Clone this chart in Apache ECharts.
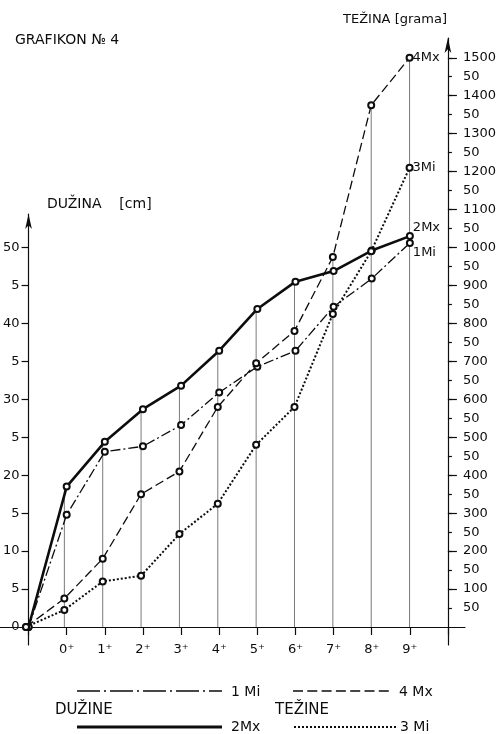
<!DOCTYPE html>
<html><head><meta charset="utf-8">
<script src="https://cdn.jsdelivr.net/npm/echarts@6/dist/echarts.min.js"></script>
<style>html,body{margin:0;padding:0;background:#fff}#c{width:499px;height:734px}</style>
</head><body><div id="c"></div>
<script>
// ---- data ----
const categories = ['', '0⁺', '1⁺', '2⁺', '3⁺', '4⁺', '5⁺', '6⁺', '7⁺', '8⁺', '9⁺', ''];
// lengths (cm)
const len1Mi = [0, 14.8, 23.1, 23.8, 26.6, 30.9, 34.3, 36.4, 42.2, 45.9, 50.6];
const len2Mx = [0, 18.5, 24.4, 28.7, 31.8, 36.4, 41.9, 45.5, 46.9, 49.6, 51.5];
// weights (g)
const w4Mx = [0, 75, 180, 350, 410, 580, 695, 780, 975, 1375, 1500];
const w3Mi = [0, 45, 120, 135, 245, 325, 480, 580, 825, 990, 1210];
// tick labels
const lenTickValues = [0, 5, 10, 15, 20, 25, 30, 35, 40, 45, 50];
const lenTickLabels = ['0', '5', '10', '5', '20', '5', '30', '5', '40', '5', '50'];
const wTickValues = [50, 100, 150, 200, 250, 300, 350, 400, 450, 500, 550, 600, 650, 700, 750, 800, 850, 900, 950, 1000, 1050, 1100, 1150, 1200, 1250, 1300, 1350, 1400, 1450, 1500];
const wTickLabels = ['50', '100', '50', '200', '50', '300', '50', '400', '50', '500', '50', '600', '50', '700', '50', '800', '50', '900', '50', '1000', '50', '1100', '50', '1200', '50', '1300', '50', '1400', '50', '1500'];
const wMajorValues = [100, 200, 300, 400, 500, 600, 700, 800, 900, 1000, 1100, 1200, 1300, 1400, 1500];

// ---- layout ----
const FONT = 'DejaVu Sans';
const INK = '#0d0d0d';
const W = 499, H = 734;
const ZERO_Y = 627, BOTTOM_Y = 645, TOP_LEN = 214, TOP_W = 38;
const AX_L = 26, AX_R = 448, X_END = 465;
const PX_PER_CM = 7.59, G_PER_CM = 20, PX_PER_G = PX_PER_CM / G_PER_CM;
const lenMin = -(BOTTOM_Y - ZERO_Y) / PX_PER_CM;
const lenMax = (ZERO_Y - TOP_LEN) / PX_PER_CM;
const wMin = -(BOTTOM_Y - ZERO_Y) / PX_PER_G;
const wMax = (ZERO_Y - TOP_W) / PX_PER_G;

const dropHeights = categories.map((c, i) =>
  (i === 0 || i >= len2Mx.length) ? null :
  Math.max(len2Mx[i] * G_PER_CM, len1Mi[i] * G_PER_CM, w4Mx[i], w3Mi[i]));

const txt = (size) => ({ fontFamily: FONT, fontSize: size, color: INK, fontWeight: 'normal' });
const axisLineStyle = { color: INK, width: 1.2 };

const chart = echarts.init(document.getElementById('c'), null, { renderer: 'canvas' });

function lineSeries(name, data, yIdx, lineStyle, endOffset) {
  return {
    name, type: 'line', xAxisIndex: yIdx, yAxisIndex: yIdx, data,
    symbol: 'emptyCircle', symbolSize: 6, z: 5,
    lineStyle: Object.assign({ color: INK }, lineStyle),
    itemStyle: { color: INK, borderColor: INK, borderWidth: 1.2 },
    endLabel: { show: true, formatter: name, distance: 3, offset: endOffset, ...txt(13) },
    animation: false
  };
}

chart.setOption({
  backgroundColor: '#fff',
  animation: false,
  title: [
    { text: 'GRAFIKON № 4', left: 15, top: 33, padding: 0, textStyle: { ...txt(14), lineHeight: 14 } },
    { text: 'TEŽINA [grama]', left: 343, top: 13, padding: 0, textStyle: { ...txt(13), lineHeight: 14 } },
    { text: 'DUŽINA    [cm]', left: 47, top: 197, padding: 0, textStyle: { ...txt(14), lineHeight: 14 } }
  ],
  grid: [
    { left: AX_L, right: W - AX_R, top: TOP_LEN, bottom: H - BOTTOM_Y },
    { left: AX_L, right: W - AX_R, top: TOP_W, bottom: H - BOTTOM_Y },
    { left: 0, right: W - X_END, top: ZERO_Y - 10, bottom: H - ZERO_Y }
  ],
  xAxis: [
    {
      gridIndex: 0, type: 'category', data: categories, boundaryGap: false,
      axisLine: { show: true, onZero: true, lineStyle: axisLineStyle },
      axisTick: { show: true, length: 8, interval: 0, lineStyle: axisLineStyle },
      axisLabel: { interval: 0, margin: -2, ...txt(13) },
      splitLine: { show: false }
    },
    { gridIndex: 1, type: 'category', data: categories, boundaryGap: false, show: false },
    {
      gridIndex: 2, type: 'value', min: 0, max: 1,
      axisLine: { show: true, lineStyle: axisLineStyle },
      axisTick: { show: false }, axisLabel: { show: false }, splitLine: { show: false }
    }
  ],
  yAxis: [
    {
      gridIndex: 0, type: 'value', position: 'left', min: lenMin, max: lenMax,
      axisLine: { show: true, symbol: ['none', 'arrow'], symbolSize: [5, 15], lineStyle: axisLineStyle },
      axisTick: { show: true, length: 7, customValues: lenTickValues, lineStyle: axisLineStyle },
      axisLabel: { customValues: lenTickValues, margin: 9, ...txt(13),
        formatter: v => { const k = lenTickValues.indexOf(v); return k >= 0 ? lenTickLabels[k] : ''; } },
      splitLine: { show: false }
    },
    {
      gridIndex: 1, type: 'value', position: 'right', min: wMin, max: wMax,
      axisLine: { show: true, symbol: ['none', 'arrow'], symbolSize: [5, 15], lineStyle: axisLineStyle },
      axisTick: { show: true, inside: false, length: 4, customValues: wTickValues, lineStyle: axisLineStyle },
      axisLabel: { customValues: wTickValues, margin: 15, ...txt(13),
        formatter: v => { const k = wTickValues.indexOf(v); return k >= 0 ? wTickLabels[k] : ''; } },
      splitLine: { show: false }
    },
    {
      gridIndex: 1, type: 'value', position: 'right', min: wMin, max: wMax,
      axisLine: { show: false },
      axisTick: { show: true, length: 9, customValues: wMajorValues, lineStyle: axisLineStyle },
      axisLabel: { show: false }, splitLine: { show: false }
    },
    { gridIndex: 2, type: 'value', show: false, min: 0, max: 1 }
  ],
  series: [
    {
      name: 'drop', type: 'bar', xAxisIndex: 1, yAxisIndex: 1, data: dropHeights,
      barWidth: 1, silent: true, z: 1, itemStyle: { color: '#7a7a7a' }
    },
    lineSeries('1Mi', len1Mi, 0, { width: 1.3, type: [10, 3, 2, 3] }, [0, 10]),
    lineSeries('2Mx', len2Mx, 0, { width: 2.6, type: 'solid' }, [0, -8]),
    lineSeries('4Mx', w4Mx, 1, { width: 1.3, type: [9, 4] }, [0, 0]),
    lineSeries('3Mi', w3Mi, 1, { width: 2, type: [2, 2] }, [0, 0])
  ],
  graphic: [
    { type: 'line', shape: { x1: 77, y1: 691, x2: 222, y2: 691 }, style: { stroke: INK, lineWidth: 1.3, lineDash: [23, 4, 2, 4] } },
    { type: 'text', x: 231, y: 692, style: { text: '1 Mi', font: '14px "DejaVu Sans"', fill: INK, verticalAlign: 'middle' } },
    { type: 'text', x: 55, y: 710, style: { text: 'DUŽINE', font: '15px "DejaVu Sans"', fill: INK, verticalAlign: 'middle' } },
    { type: 'line', shape: { x1: 77, y1: 727, x2: 222, y2: 727 }, style: { stroke: INK, lineWidth: 2.8 } },
    { type: 'text', x: 231, y: 727, style: { text: '2Mx', font: '14px "DejaVu Sans"', fill: INK, verticalAlign: 'middle' } },
    { type: 'line', shape: { x1: 293, y1: 691, x2: 391, y2: 691 }, style: { stroke: INK, lineWidth: 1.3, lineDash: [10, 4.3] } },
    { type: 'text', x: 399, y: 692, style: { text: '4 Mx', font: '14px "DejaVu Sans"', fill: INK, verticalAlign: 'middle' } },
    { type: 'text', x: 275, y: 710, style: { text: 'TEŽINE', font: '15px "DejaVu Sans"', fill: INK, verticalAlign: 'middle' } },
    { type: 'line', shape: { x1: 294, y1: 727, x2: 396, y2: 727 }, style: { stroke: INK, lineWidth: 2, lineDash: [2, 2] } },
    { type: 'text', x: 400, y: 727, style: { text: '3 Mi', font: '14px "DejaVu Sans"', fill: INK, verticalAlign: 'middle' } }
  ]
});
</script>
</body></html>
